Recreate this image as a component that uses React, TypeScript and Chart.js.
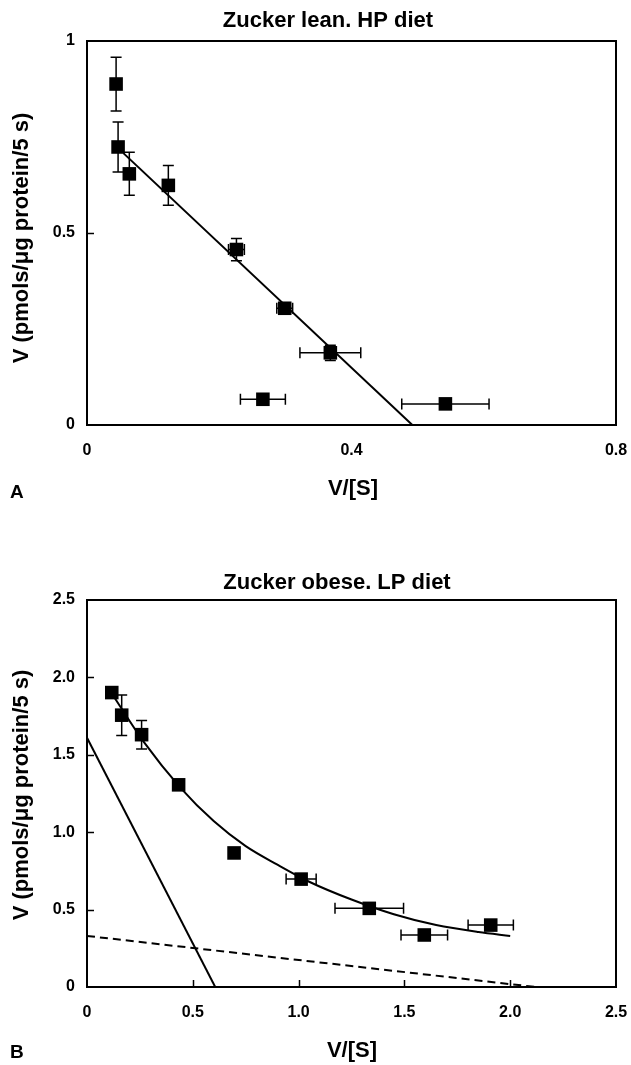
import React, { useEffect, useRef } from "react";
import { Chart, registerables } from "chart.js";
Chart.register(...registerables);

// ---------- Panel A: Zucker lean, HP diet ----------
const xA = [0.044, 0.047, 0.064, 0.123, 0.226, 0.299, 0.368, 0.266, 0.542];
const yA = [0.888, 0.724, 0.654, 0.624, 0.457, 0.304, 0.188, 0.067, 0.055];
const xErrA = [0, 0, 0, 0, 0.012, 0.012, 0.046, 0.034, 0.066];
const yErrA = [0.07, 0.065, 0.056, 0.052, 0.029, 0.012, 0.02, 0, 0];
const fitLineAX = [0.055, 0.492];
const fitLineAY = [0.708, 0];
const xTickLabelsA = ["0", "0.4", "0.8"];
const yTickLabelsA = ["0", "0.5", "1"];

// ---------- Panel B: Zucker obese, LP diet ----------
const xB = [0.117, 0.164, 0.258, 0.433, 0.695, 1.012, 1.334, 1.594, 1.908];
const yB = [1.902, 1.756, 1.63, 1.306, 0.866, 0.697, 0.508, 0.336, 0.4];
const xErrB = [0, 0, 0, 0, 0, 0.071, 0.162, 0.11, 0.107];
const yErrB = [0, 0.131, 0.092, 0, 0, 0, 0, 0, 0];
const curveBX = [0.12, 0.27, 0.44, 0.6, 0.75, 0.9, 1.05, 1.25, 1.45, 1.65, 1.85, 2.0];
const curveBY = [1.89, 1.58, 1.29, 1.07, 0.91, 0.79, 0.68, 0.565, 0.47, 0.4, 0.355, 0.33];
const solidLineBX = [0, 0.606];
const solidLineBY = [1.61, 0];
const dashLineBX = [0, 2.12];
const dashLineBY = [0.33, 0];
const xTickLabelsB = ["0", "0.5", "1.0", "1.5", "2.0", "2.5"];
const yTickLabelsB = ["0", "0.5", "1.0", "1.5", "2.0", "2.5"];

const FONT = "'Liberation Sans', Arial, Helvetica, sans-serif";

type PanelCfg = {
  xs: number[];
  ys: number[];
  xErr: number[];
  yErr: number[];
  lines: { x: number[]; y: number[]; dash?: number[]; smooth?: boolean }[];
  xMax: number;
  yMax: number;
  xStep: number;
  yStep: number;
  xLabels: string[];
  yLabels: string[];
  xInnerTicks: boolean;
  title: string;
  titlePos: [number, number];
  xTitlePos: [number, number];
  yTitlePos: [number, number];
  letter: string;
  letterPos: [number, number];
  width: number;
  height: number;
  padding: { top: number; right: number; bottom: number; left: number };
};

function makePlugin(cfg: PanelCfg) {
  return {
    id: "panelDecor",
    beforeDatasetsDraw(chart: any) {
      const ctx = chart.ctx;
      const xs = chart.scales.x;
      const ys = chart.scales.y;
      ctx.save();
      ctx.strokeStyle = "#000";
      ctx.lineWidth = 1.5;
      const cap = 5.5;
      cfg.xs.forEach((xv, i) => {
        const px = xs.getPixelForValue(xv);
        const py = ys.getPixelForValue(cfg.ys[i]);
        const ye = cfg.yErr[i];
        if (ye > 0) {
          const t = ys.getPixelForValue(cfg.ys[i] + ye);
          const b = ys.getPixelForValue(cfg.ys[i] - ye);
          ctx.beginPath();
          ctx.moveTo(px, t);
          ctx.lineTo(px, b);
          ctx.moveTo(px - cap, t);
          ctx.lineTo(px + cap, t);
          ctx.moveTo(px - cap, b);
          ctx.lineTo(px + cap, b);
          ctx.stroke();
        }
        const xe = cfg.xErr[i];
        if (xe > 0) {
          const l = xs.getPixelForValue(xv - xe);
          const r = xs.getPixelForValue(xv + xe);
          ctx.beginPath();
          ctx.moveTo(l, py);
          ctx.lineTo(r, py);
          ctx.moveTo(l, py - cap);
          ctx.lineTo(l, py + cap);
          ctx.moveTo(r, py - cap);
          ctx.lineTo(r, py + cap);
          ctx.stroke();
        }
      });
      ctx.restore();
    },
    afterDraw(chart: any) {
      const ctx = chart.ctx;
      const a = chart.chartArea;
      const xs = chart.scales.x;
      const ys = chart.scales.y;
      ctx.save();
      ctx.strokeStyle = "#000";
      ctx.lineWidth = 2;
      ctx.strokeRect(a.left, a.top, a.right - a.left, a.bottom - a.top);
      ctx.lineWidth = 1.5;
      const tl = 7;
      ctx.beginPath();
      ys.ticks.forEach((t: any) => {
        if (t.value <= ys.min || t.value >= ys.max) return;
        const py = Math.round(ys.getPixelForValue(t.value)) + 0.5;
        ctx.moveTo(a.left, py);
        ctx.lineTo(a.left + tl, py);
      });
      if (cfg.xInnerTicks) {
        xs.ticks.forEach((t: any) => {
          if (t.value <= xs.min || t.value >= xs.max) return;
          const px = Math.round(xs.getPixelForValue(t.value)) + 0.5;
          ctx.moveTo(px, a.bottom);
          ctx.lineTo(px, a.bottom - tl);
        });
      }
      ctx.stroke();

      ctx.fillStyle = "#000";
      ctx.textAlign = "center";
      ctx.textBaseline = "middle";
      ctx.font = `bold 22px ${FONT}`;
      ctx.fillText(cfg.title, cfg.titlePos[0], cfg.titlePos[1]);
      ctx.fillText("V/[S]", cfg.xTitlePos[0], cfg.xTitlePos[1]);
      ctx.save();
      ctx.translate(cfg.yTitlePos[0], cfg.yTitlePos[1]);
      ctx.rotate(-Math.PI / 2);
      ctx.fillText("V (pmols/\u03bcg protein/5 s)", 0, 0);
      ctx.restore();
      ctx.textAlign = "left";
      ctx.font = `bold 19px ${FONT}`;
      ctx.fillText(cfg.letter, cfg.letterPos[0], cfg.letterPos[1]);
      ctx.restore();
    },
  };
}

function Panel({ cfg }: { cfg: PanelCfg }) {
  const ref = useRef<HTMLCanvasElement | null>(null);
  useEffect(() => {
    if (!ref.current) return;
    const datasets: any[] = [
      {
        type: "scatter",
        data: cfg.xs.map((x, i) => ({ x, y: cfg.ys[i] })),
        pointStyle: "rect",
        pointRadius: 9.6,
        pointBackgroundColor: "#000",
        pointBorderColor: "#000",
        pointBorderWidth: 0,
        showLine: false,
        order: 0,
      },
      ...cfg.lines.map((ln) => ({
        type: "line",
        data: ln.x.map((x, i) => ({ x, y: ln.y[i] })),
        borderColor: "#000",
        borderWidth: 2,
        borderDash: ln.dash || [],
        pointRadius: 0,
        fill: false,
        tension: ln.smooth ? 0.4 : 0,
        cubicInterpolationMode: ln.smooth ? "monotone" : "default",
        order: 1,
      })),
    ];
    const tickFont = { family: FONT, size: 16, weight: "bold" as const };
    const chart = new Chart(ref.current, {
      type: "scatter",
      data: { datasets },
      plugins: [makePlugin(cfg)],
      options: {
        animation: false,
        responsive: false,
        events: [],
        layout: { padding: cfg.padding },
        plugins: { legend: { display: false }, title: { display: false }, tooltip: { enabled: false } },
        scales: {
          x: {
            type: "linear",
            min: 0,
            max: cfg.xMax,
            grid: { display: false, drawTicks: false },
            border: { display: false },
            afterFit: (s: any) => {
              s.height = 70;
              s.paddingLeft = 0;
              s.paddingRight = 0;
            },
            ticks: {
              stepSize: cfg.xStep,
              color: "#000",
              font: tickFont,
              padding: 16,
              maxRotation: 0,
              callback: (_v: any, i: number) => cfg.xLabels[i],
            },
          },
          y: {
            type: "linear",
            min: 0,
            max: cfg.yMax,
            grid: { display: false, drawTicks: false },
            border: { display: false },
            afterFit: (s: any) => {
              s.width = 87;
              s.paddingTop = 0;
              s.paddingBottom = 0;
            },
            ticks: {
              stepSize: cfg.yStep,
              color: "#000",
              font: tickFont,
              padding: 12,
              callback: (_v: any, i: number) => cfg.yLabels[i],
            },
          },
        },
      } as any,
    });
    return () => chart.destroy();
  }, [cfg]);
  return <canvas ref={ref} width={cfg.width} height={cfg.height} style={{ display: "block" }} />;
}

const cfgA: PanelCfg = {
  xs: xA,
  ys: yA,
  xErr: xErrA,
  yErr: yErrA,
  lines: [{ x: fitLineAX, y: fitLineAY }],
  xMax: 0.8,
  yMax: 1,
  xStep: 0.4,
  yStep: 0.5,
  xLabels: xTickLabelsA,
  yLabels: yTickLabelsA,
  xInnerTicks: false,
  title: "Zucker lean. HP diet",
  titlePos: [328, 21],
  xTitlePos: [353, 489],
  yTitlePos: [22, 238],
  letter: "A",
  letterPos: [10, 493],
  width: 631,
  height: 520,
  padding: { top: 41, right: 15, bottom: 25, left: 0 },
};

const cfgB: PanelCfg = {
  xs: xB,
  ys: yB,
  xErr: xErrB,
  yErr: yErrB,
  lines: [
    { x: curveBX, y: curveBY, smooth: true },
    { x: solidLineBX, y: solidLineBY },
    { x: dashLineBX, y: dashLineBY, dash: [8, 5] },
  ],
  xMax: 2.5,
  yMax: 2.5,
  xStep: 0.5,
  yStep: 0.5,
  xLabels: xTickLabelsB,
  yLabels: yTickLabelsB,
  xInnerTicks: true,
  title: "Zucker obese. LP diet",
  titlePos: [337, 53],
  xTitlePos: [352, 521],
  yTitlePos: [22, 265],
  letter: "B",
  letterPos: [10, 523],
  width: 631,
  height: 535,
  padding: { top: 70, right: 15, bottom: 8, left: 0 },
};

export default function App() {
  return (
    <div style={{ position: "absolute", left: 0, top: 0, width: 631, height: 1065, background: "#fff" }}>
      <div style={{ position: "absolute", left: 0, top: 0 }}>
        <Panel cfg={cfgA} />
      </div>
      <div style={{ position: "absolute", left: 0, top: 530 }}>
        <Panel cfg={cfgB} />
      </div>
    </div>
  );
}
